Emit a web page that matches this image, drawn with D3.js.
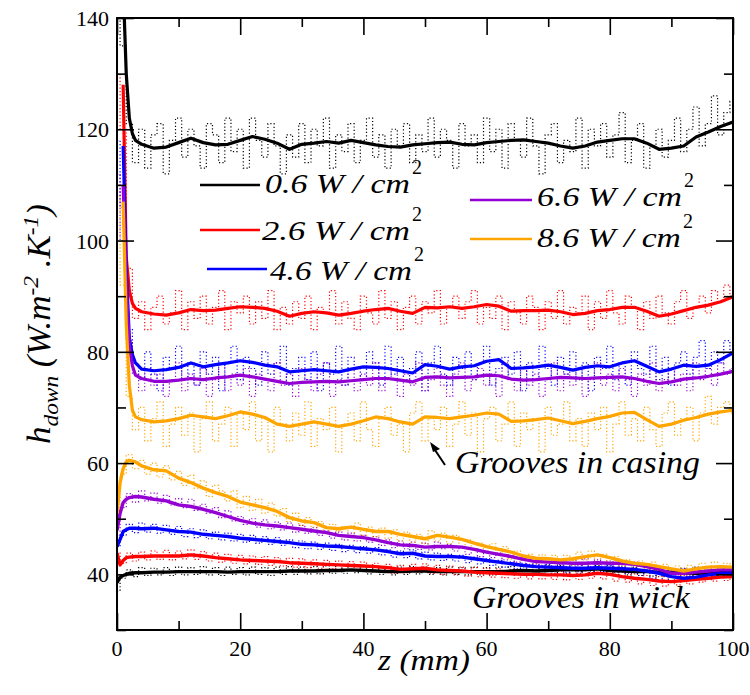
<!DOCTYPE html>
<html><head><meta charset="utf-8">
<script src="https://cdn.jsdelivr.net/npm/d3@7"></script>
</head><body style="margin:0"><svg id="c" width="750" height="695"></svg>
<script>
// ---------- data ----------
const labels = ["0.6 W / cm", "2.6 W / cm", "4.6 W / cm", "6.6 W / cm", "8.6 W / cm"];
const colors = ["#000000", "#ff0000", "#0000ff", "#9400d3", "#ffa500"];
const xMajor = [0, 20, 40, 60, 80, 100];
const xMinor = [10, 30, 50, 70, 90];
const yMajor = [40, 60, 80, 100, 120, 140];
const yMinor = [30, 50, 70, 90, 110, 130];

const zUpper = [1,1.5,2,2.5,3,4,6,8,10,12,14,16,18,20,22,24,26,28,30,32,34,36,38,40,42,44,46,48,50,52,54,56,58,60,62,64,66,68,70,72,74,76,78,80,82,84,86,88,90,92,94,96,98,100];
const zLower = [0,0.5,1,1.5,2,3,4,6,8,10,12,14,16,18,20,22,24,26,28,30,32,34,36,38,40,42,44,46,48,50,52,54,56,58,60,62,64,66,68,70,72,74,76,78,80,82,84,86,88,90,92,94,96,98,100];
const zRaw = [0,1,2,3,4,5,6,7,8,9,10,11,12,13,14,15,16,17,18,19,20,21,22,23,24,25,26,27,28,29,30,31,32,33,34,35,36,37,38,39,40,41,42,43,44,45,46,47,48,49,50,51,52,53,54,55,56,57,58,59,60,61,62,63,64,65,66,67,68,69,70,71,72,73,74,75,76,77,78,79,80,81,82,83,84,85,86,87,88,89,90,91,92,93,94,95,96,97,98,99,100];

const upBlack  = [146,130,122,119.2,118,117.3,116.6,116.8,117.6,118.4,117.6,117.2,117.3,118,118.7,118.2,117.5,116.4,117.3,117.5,117.8,117.5,118,117.6,117.2,116.9,116.8,117.2,117.4,117.6,117.7,117.3,117.2,117.6,117.8,118,118.1,117.8,117.5,117,116.6,117,117.7,118,118.3,118.3,117.5,116.4,116.6,117,118.6,119.5,120.5,121.3];
const upRed    = [128,97,91,88.7,87.8,87.2,86.8,86.6,87,87.6,87.4,87.5,87.8,88.1,88,87.8,87.3,86.4,86.9,87.2,87,86.6,86.9,87.3,87.6,87.8,87.3,86.9,88,87.9,88.1,87.8,88.1,88.5,88.2,87.3,87.4,87.4,87.5,87.2,86.7,86.9,87.4,87.6,88,88,87.3,86.4,86.8,87.4,88,88.4,89,89.9];
const upBlue   = [117,95,82.5,79.5,78,76.9,76.6,76.8,77.2,78,77.3,77.7,78,78.4,78.1,77.6,77.3,76.4,76.6,76.8,76.6,76.4,76.9,77.3,77.2,77,76.6,76.2,77.7,77.4,76.9,77.3,77.5,78.3,78.6,77,77.1,77.3,77.6,77.2,76.7,77.2,77.5,77.3,78,78.4,77.4,76.4,76.9,77.6,77.4,77.6,78.6,79.8];
const upPurple = [110,92,81,77.5,75.8,75.2,74.7,74.7,74.9,75.2,75,75.3,75.5,75.8,75.5,75.1,74.7,74.3,74.5,74.6,74.7,74.6,74.8,75,75.2,75.2,74.9,74.6,75.4,75.5,75.3,75.4,75.5,75.8,75.7,75.1,74.9,75,75.2,75.4,75.3,75.2,75.3,75.4,75.5,75.2,74.7,74.3,74.6,75.1,75.3,75.6,76,76.5];
const upOrange = [107,85,74,69.5,68.3,67.8,67.4,67.6,68,68.6,68.3,68,68.5,69.2,68.8,68.2,67,66.6,67,67.4,67,66.6,67,67.6,68.3,68,67.4,67,68.3,68.2,68,68.3,68.6,69,68.8,67.5,67.6,67.8,68.1,67.6,67.1,67.5,68,68.4,69,69.1,67.8,66.6,67,67.7,68.2,68.8,69.2,69.5];

const loBlack  = [38.5,39.5,39.8,40,40.2,40.3,40.3,40.4,40.4,40.5,40.5,40.5,40.5,40.4,40.5,40.5,40.5,40.5,40.6,40.6,40.6,40.7,40.7,40.8,40.7,40.6,40.5,40.5,40.6,40.6,40.5,40.5,40.5,40.5,40.5,40.5,40.6,40.7,40.6,40.7,40.8,40.8,40.8,41,40.7,40.6,40.5,40.5,40.4,40.4,40.3,40.2,40.3,40.5,40.5];
const loRed    = [43.8,41.7,42.5,43,43.1,43.2,43.2,43.3,43.3,43.3,43.5,43.3,43,42.8,42.6,42.5,42.4,42.3,42.1,42,41.9,41.8,41.7,41.6,41.5,41.4,41.2,40.9,41,41.1,40.8,40.7,40.6,40.4,40.3,40.2,40.1,40,40,39.9,39.9,39.8,39.9,40.2,40,39.6,39.3,39.1,38.8,38.7,38.9,39.1,39.3,39.5,39.6];
const loBlue   = [45,46.3,47.7,48,48.3,48.3,48.2,48.3,48,47.7,47.6,47.2,47,46.8,46.5,46.3,46.1,45.9,45.7,45.4,45.3,45.1,45,44.8,44.6,44.4,44.1,43.7,43.8,43.3,43.2,43.2,43.1,42.8,42.5,42.2,41.9,41.6,41.4,41.3,41.2,41.1,41.1,41.2,41.1,41,40.9,40.6,40.2,39.6,39.3,39.5,39.9,40.2,40.2];
const loPurple = [47.9,51,52.9,53.5,53.8,54,53.9,53.5,53.2,52.5,52.2,51.7,51.1,50.4,49.7,49.2,48.9,48.7,48.4,48.1,47.8,47.5,47,46.8,46.6,46.2,45.7,45.3,45.2,44.9,45,45,44.9,44.5,44,43.6,43.2,42.7,42.3,42.2,42.1,42,42,42.1,42,42,41.8,41.4,40.9,40.2,40.2,40.4,40.6,40.8,40.8];
const loOrange = [51,56.5,59,60.2,60.5,60.2,59.5,58.8,58.6,57.3,56.5,55.5,54.7,54,53,52.5,52,51.3,50.2,49.6,49.3,48.4,48.2,48.5,48.1,47.7,47.7,47.2,46.8,46.4,47,46.7,46.3,45.6,45,44.5,44,43.3,42.9,42.8,42.6,42.8,43.2,43.5,43,42.4,42,41.8,41.4,41,40.6,41,41.3,41.4,41.3];

const rawUpBlack  = [150,135,121,114,120,113,119,121,112,118,122,115,120,117,113,121,119,114,122,116,
 120,113,122,118,115,121,117,112,119,115,121,114,120,117,122,113,119,116,121,114,
 118,122,115,119,113,120,117,121,114,119,116,122,115,120,118,113,121,117,119,114,
 122,116,120,113,121,118,115,122,117,112,119,121,114,118,116,122,113,120,117,121,
 115,119,123,114,118,121,113,117,120,115,118,122,116,120,124,117,121,126,119,123,125];
const rawUpRed    = [130,120,95,86,89,84,88,90,85,87,91,84,89,86,90,85,88,91,84,89,
 87,90,85,89,86,91,84,88,85,89,86,90,84,88,87,91,85,89,86,84,
 90,87,85,91,86,89,84,88,90,85,89,87,91,85,88,90,86,89,91,85,
 88,86,90,84,89,87,85,90,88,84,89,86,91,85,88,87,90,84,89,86,
 91,87,85,90,88,84,89,86,90,87,85,89,91,86,88,90,87,91,89,92,90];
const rawUpBlue   = [118,106,84,78,75,80,76,73,79,77,81,75,78,74,80,76,79,73,78,81,
 75,79,77,74,80,76,78,81,74,77,79,75,80,73,78,76,81,74,79,77,
 75,80,78,74,81,76,79,75,77,80,73,78,81,76,74,79,77,80,75,78,
 81,74,77,79,76,80,73,78,75,81,77,74,79,76,80,75,78,73,79,77,
 81,75,78,74,80,77,76,81,75,79,74,78,80,76,79,82,77,80,78,82,80];
const rawUpPurple = [112,100,82,76,73,77,74,76,72,75,78,73,76,74,77,72,75,78,73,76,
 74,77,72,76,75,73,78,74,76,72,77,75,73,76,78,72,75,74,77,73,
 76,74,78,73,75,77,72,76,74,78,73,75,77,74,72,76,78,73,75,77,
 74,76,72,78,75,73,77,74,76,72,75,78,73,76,74,77,72,75,78,74,
 76,73,77,75,72,76,74,78,73,75,77,74,76,73,78,75,77,74,78,76,77];
const rawUpOrange = [108,92,72,66,70,64,68,71,63,67,70,65,69,62,68,71,64,67,70,63,
 69,66,71,64,68,62,70,67,64,69,65,71,63,68,66,70,62,67,69,64,
 71,66,63,68,70,65,67,62,69,71,64,68,66,70,63,67,71,65,69,62,
 68,70,64,67,71,63,69,66,68,62,70,65,67,71,64,68,63,69,66,70,
 62,67,71,65,68,64,70,66,63,69,71,65,68,70,64,69,72,67,70,71,69];
const rawLoBlack  = [37,39.3,40.8,39.6,41.2,39.8,41.1,39.9,41.2,39.8,41.3,39.9,41.2,40,41.4,39.9,41.2,39.8,41.3,40,
 41.2,39.9,41.3,40,41.2,39.8,41.3,40,41.4,40,41.3,40.1,41.4,40.1,41.5,40.2,41.6,40.2,41.7,40.3,
 41.5,40.1,41.4,40,41.3,39.9,41.3,40,41.4,40.1,41.3,40,41.2,39.9,41.3,40,41.2,39.9,41.3,39.9,
 41.2,39.9,41.3,40,41.4,40.1,41.4,40,41.5,40.1,41.6,40.2,41.6,40.2,41.7,40.2,41.9,40.3,41.6,40.1,
 41.5,40,41.3,39.9,41.3,39.8,41.2,39.7,41.1,39.6,41,39.6,41.1,39.7,41.3,39.8,41.3,39.9,41.2,39.9,40.5];
const rawLoRed    = [44,42,43.8,42.4,44,42.6,44.2,42.7,44.3,42.6,44.2,42.8,44.4,42.7,44.1,42.4,43.8,42.2,43.6,42,
 43.4,41.9,43.3,41.8,43.2,41.6,43,41.5,42.9,41.3,42.8,41.2,42.6,41.1,42.5,41,42.4,40.9,42.3,40.8,
 42.2,40.6,42,40.5,41.8,40.2,41.6,40.3,41.8,40.4,41.9,40.2,41.6,40,41.5,39.9,41.3,39.7,41.2,39.6,
 41.1,39.5,41,39.4,40.9,39.3,40.8,39.2,40.7,39.2,40.6,39.1,40.6,39,40.7,39.1,41,39.3,41.1,39.2,
 40.7,38.8,40.4,38.6,40.1,38.3,39.8,38,39.6,37.9,39.5,38.1,39.8,38.3,40,38.6,40.2,38.8,40.3,38.9,39.6];
const rawLoBlue   = [45,47,49,47.5,49.2,47.6,49,47.4,48.8,47.2,48.6,46.8,48.2,46.6,48,46.4,47.6,46.2,47.4,46,
 47.2,45.8,47,45.6,46.8,45.4,46.6,45.2,46.2,44.8,46,44.6,45.8,44.5,45.6,44.3,45.4,44.1,45.2,43.9,
 45,43.8,44.8,43.5,44.4,43.1,44.2,43,44.4,42.8,44,42.6,43.8,42.5,43.6,42.4,43.4,42.1,43.1,41.9,
 42.8,41.6,42.5,41.3,42.2,41,42,40.8,41.9,40.6,41.8,40.5,41.7,40.4,41.8,40.5,41.9,40.6,41.8,40.5,
 41.6,40.4,41.5,40.2,41.2,39.8,40.8,39.3,40.2,38.8,40,38.9,40.2,39.2,40.6,39.5,40.8,39.7,40.9,39.6,40.4];
const rawLoPurple = [47,52,54.5,53,55,53.2,54.6,52.8,54.2,52.5,53.6,52,53.5,51.5,52.6,51,52,50.2,51.4,49.6,
 50.4,49,50,48.5,49.8,48.2,49.4,48,49.2,47.6,48.8,47.4,48.4,47,47.8,46.5,47.6,46.2,47.4,46,
 47,45.8,46.8,45.2,46.2,44.8,46,44.6,45.8,44.5,45.6,44.4,45.8,44.6,45.4,44.2,45,43.6,44.6,43.2,
 44.2,43,43.8,42.6,43.4,42.2,43,41.8,43,41.6,42.8,41.5,42.6,41.4,42.6,41.6,42.8,41.4,42.6,41.5,
 42.4,41.3,42.4,41,42.2,40.8,41.6,40.3,41.2,39.8,40.8,39.7,41,39.9,41.2,40,41.4,40.2,41.4,40.3,41];
const rawLoOrange = [50,58,61.5,59,60.5,58,60,57.5,59.5,57,58.5,56,57.8,55.5,56.8,54,56,55,53.2,55,
 52,54,51.5,53.5,51,52.8,50.5,51.8,49.5,51,48.8,50.2,48.5,49.5,47.5,49,47.8,48.6,47,49.2,
 47,48.5,46.8,48.3,46.5,48,46,47.6,45.8,47.2,45.5,47.8,46,47.4,45.5,47,44.8,46.2,44.5,45.6,
 44,45.5,43.5,45,42.8,44.2,42.5,43.6,42,43.5,42.2,43.4,42,43.4,42.5,44,42.6,44.2,42.2,43.6,
 42,43.2,41.5,42.6,41.2,42.4,41,42.2,40.6,41.8,40.3,41.5,40.2,41.6,40.6,42,40.8,42.2,40.8,42,41];

const upper = [upBlack, upRed, upBlue, upPurple, upOrange];
const lower = [loBlack, loRed, loBlue, loPurple, loOrange];
const rawUp = [rawUpBlack, rawUpRed, rawUpBlue, rawUpPurple, rawUpOrange];
const rawLo = [rawLoBlack, rawLoRed, rawLoBlue, rawLoPurple, rawLoOrange];

// ---------- chart ----------
const FONT = "Liberation Serif";
const svg = d3.select("#c");
const L = 117, R = 733, T = 18, B = 630;
const x = d3.scaleLinear().domain([0, 100]).range([L, R]);
const y = d3.scaleLinear().domain([30, 140]).range([B, T]);

// ---- texts first (plain presentation attributes, no textLength) ----
const txt = svg.append("g").attr("font-family", FONT).attr("fill", "#000");
function tx(size, str, italic) {
  const t = txt.append("text").attr("font-family", FONT).attr("font-size", size).text(str);
  if (italic) t.attr("font-style", "italic");
  return t;
}
function stretch(sel, px, py, target, extra) {
  const w = sel.node().getComputedTextLength() || target;
  sel.attr("transform", `translate(${px},${py}) ${extra || ""} scale(${(target / w).toFixed(3)},1)`);
}
// tick labels
xMajor.forEach(v => tx(22, String(v)).attr("x", x(v)).attr("y", B + 26).attr("text-anchor", "middle"));
yMajor.forEach(v => tx(22, String(v)).attr("x", L - 8).attr("y", y(v) + 8).attr("text-anchor", "end"));
// axis titles
stretch(tx(29, "z (mm)", true), 378, 670, 92);
const yt = tx(33, "", true);
yt.append("tspan").text("h");
yt.append("tspan").attr("font-size", 22).attr("dy", 8).text("down");
yt.append("tspan").attr("dy", -8).text(" (W.m");
yt.append("tspan").attr("font-size", 22).attr("dy", -12).text("-2");
yt.append("tspan").attr("dy", 12).text(" .K");
yt.append("tspan").attr("font-size", 22).attr("dy", -12).text("-1");
yt.append("tspan").attr("dy", 12).text(")");
stretch(yt, 50, 444, 240, "rotate(-90)");
// legend texts
const legPos = [
  {x1: 200, x2: 260, ly: 185, tx: 265, ty: 193, tl: 145},
  {x1: 200, x2: 260, ly: 230, tx: 262, ty: 240, tl: 148},
  {x1: 207, x2: 267, ly: 269, tx: 270, ty: 280, tl: 142},
  {x1: 470, x2: 532, ly: 200, tx: 537, ty: 206, tl: 145},
  {x1: 470, x2: 532, ly: 239, tx: 537, ty: 247, tl: 144}
];
labels.forEach((lab, k) => {
  const p = legPos[k];
  stretch(tx(28, lab, true), p.tx, p.ty, p.tl);
  tx(20, "2").attr("x", p.tx + p.tl + 2).attr("y", p.ty - 19);
});
stretch(tx(31, "Grooves in casing", true), 455, 473, 245);
stretch(tx(31, "Grooves in wick", true), 472, 608, 218);

// ---- graphics ----
svg.append("defs").append("clipPath").attr("id", "clip")
  .append("rect").attr("x", L).attr("y", T).attr("width", R - L).attr("height", B - T);
const plot = svg.insert("g", ":first-child").attr("clip-path", "url(#clip)");
const line = (zs, curve) => d3.line().curve(curve || d3.curveLinear)
  .defined((d, i) => zs[i] !== undefined && d !== undefined)
  .x((d, i) => x(zs[i])).y(d => y(d));

[rawUp, rawLo].forEach(group => group.forEach((vals, k) => {
  plot.append("path").attr("d", line(zRaw, d3.curveStep)(vals)).attr("fill", "none")
    .attr("stroke", colors[k]).attr("stroke-width", 1.2).attr("stroke-dasharray", "1.2,2.2");
}));
upper.forEach((vals, k) => {
  plot.append("path").attr("d", line(zUpper)(vals)).attr("fill", "none")
    .attr("stroke", colors[k]).attr("stroke-width", 3.2).attr("stroke-linejoin", "round");
});
lower.forEach((vals, k) => {
  plot.append("path").attr("d", line(zLower)(vals)).attr("fill", "none")
    .attr("stroke", colors[k]).attr("stroke-width", 3.4).attr("stroke-linejoin", "round");
});

// tick marks via d3 axes (labels drawn above as plain text)
function ticks(g) {
  g.select(".domain").remove();
  g.selectAll("text").remove();
  g.selectAll(".tick line").attr("stroke", "#000").attr("stroke-width", 1.6);
}
const ax = svg.append("g");
ax.append("g").attr("transform", `translate(0,${B})`).call(d3.axisBottom(x).tickValues(xMajor).tickSize(-17)).call(ticks);
ax.append("g").attr("transform", `translate(0,${B})`).call(d3.axisBottom(x).tickValues(xMinor).tickSize(-9)).call(ticks);
ax.append("g").attr("transform", `translate(0,${T})`).call(d3.axisTop(x).tickValues(xMajor).tickSize(-17)).call(ticks);
ax.append("g").attr("transform", `translate(0,${T})`).call(d3.axisTop(x).tickValues(xMinor).tickSize(-9)).call(ticks);
ax.append("g").attr("transform", `translate(${L},0)`).call(d3.axisLeft(y).tickValues(yMajor).tickSize(-17)).call(ticks);
ax.append("g").attr("transform", `translate(${L},0)`).call(d3.axisLeft(y).tickValues(yMinor).tickSize(-9)).call(ticks);
ax.append("g").attr("transform", `translate(${R},0)`).call(d3.axisRight(y).tickValues(yMajor).tickSize(-17)).call(ticks);
ax.append("g").attr("transform", `translate(${R},0)`).call(d3.axisRight(y).tickValues(yMinor).tickSize(-9)).call(ticks);
ax.append("rect").attr("x", L).attr("y", T).attr("width", R - L).attr("height", B - T)
  .attr("fill", "none").attr("stroke", "#000").attr("stroke-width", 2);

// legend lines
labels.forEach((lab, k) => {
  const p = legPos[k];
  ax.append("line").attr("x1", p.x1).attr("x2", p.x2).attr("y1", p.ly).attr("y2", p.ly)
    .attr("stroke", colors[k]).attr("stroke-width", 2.6);
});
// arrow (drawn as plain path)
ax.append("line").attr("x1", 445).attr("y1", 465).attr("x2", 433).attr("y2", 447)
  .attr("stroke", "#000").attr("stroke-width", 2);
ax.append("path").attr("d", "M430,442 L440,449 L433,452 Z").attr("fill", "#000");
</script></body></html>
